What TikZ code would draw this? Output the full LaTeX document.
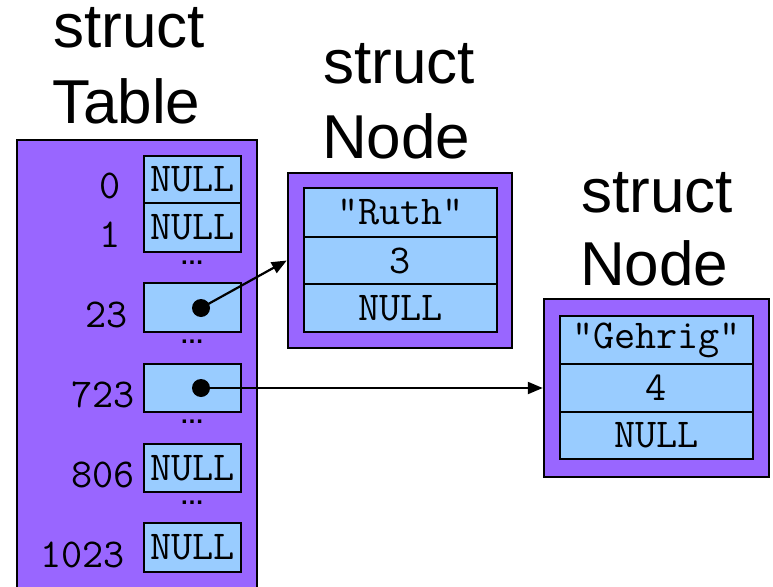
\documentclass[tikz,border=0pt]{standalone}
\usepackage{fontspec}
\setmainfont{Liberation Sans}
\usetikzlibrary{arrows.meta}
\definecolor{purp}{RGB}{153,102,255}
\definecolor{lblue}{RGB}{153,204,255}
\tikzset{
  monotext/.style={font=\ttfamily\fontsize{41}{41}\selectfont},
  box/.style={draw=black, line width=2.5pt, fill=purp, rectangle, inner sep=0pt},
  cell/.style={draw=black, line width=2.5pt, fill=lblue, rectangle, inner sep=0pt,
    minimum width=97pt, monotext},
  fcell/.style={draw=black, line width=2.5pt, fill=lblue, rectangle, inner sep=0pt,
    minimum width=193pt, monotext},
  idx/.style={anchor=base east, inner sep=0pt, monotext},
  ttl/.style={anchor=base west, inner sep=0pt, font=\fontsize{62}{62}\selectfont},
  ell/.style={anchor=base, inner sep=0pt, text height=4pt, text depth=0pt,
    font=\bfseries\fontsize{24}{24}\selectfont},
  ptr/.style={circle, fill=black, inner sep=0pt, minimum size=18pt},
  link/.style={line width=2.2pt, -{Triangle[length=15pt,width=12pt]}}
}
\begin{document}
\begin{tikzpicture}[x=1pt,y=-1pt]
\useasboundingbox (0,0) rectangle (773,586);
% titles
\node[ttl] (t1a) at (53,48) {struct};
\node[ttl] (t1b) at (52,123) {Table};
\node[ttl] (t2a) at (323,83) {struct};
\node[ttl] (t2b) at (322,158) {Node};
\node[ttl] (t3a) at (581,212) {struct};
\node[ttl] (t3b) at (580,285) {Node};
% table
\node[box, minimum width=240pt, minimum height=460pt] (table) at (137,370) {};
\node[cell, minimum height=47pt] (c0) at (192.5,179.5) {NULL};
\node[cell, minimum height=49pt] (c1) at (192.5,227.5) {NULL};
\node[cell, minimum height=49pt] (c23) at (192.5,307.5) {};
\node[cell, minimum height=48pt] (c723) at (192.5,388) {};
\node[cell, minimum height=48pt] (c806) at (192.5,468) {NULL};
\node[cell, minimum height=49pt] (c1023) at (192.5,547.5) {NULL};
\node[ell] (e1) at (192,264) {…};
\node[ell] (e2) at (192,343) {…};
\node[ell] (e3) at (192,423) {…};
\node[ell] (e4) at (192,504) {…};
\node[idx] (l0) at (121,198) {0};
\node[idx] (l1) at (121,247) {1};
\node[idx] (l23) at (128,327) {23};
\node[idx] (l723) at (135,407) {723};
\node[idx] (l806) at (135,487) {806};
\node[idx] (l1023) at (125,567) {1023};
% Ruth node
\node[box, minimum width=224pt, minimum height=175pt] (ruth) at (400,260.5) {};
\node[fcell, minimum height=49pt] (r1) at (400.5,212.5) {"Ruth"};
\node[fcell, minimum height=47pt] (r2) at (400.5,260.5) {3};
\node[fcell, minimum height=48pt] (r3) at (400.5,308) {NULL};
% Gehrig node
\node[box, minimum width=225pt, minimum height=178pt] (gehrig) at (656.5,388) {};
\node[fcell, minimum height=48pt] (g1) at (656.5,340) {"Gehrig"};
\node[fcell, minimum height=48pt] (g2) at (656.5,388) {4};
\node[fcell, minimum height=47pt] (g3) at (656.5,435.5) {NULL};
% pointers
\node[ptr] (p23) at (201,308) {};
\node[ptr] (p723) at (201,388) {};
\draw[link] (p23.center) -- (ruth.west);
\draw[link] (p723.center) -- (gehrig.west);
\end{tikzpicture}
\end{document}
